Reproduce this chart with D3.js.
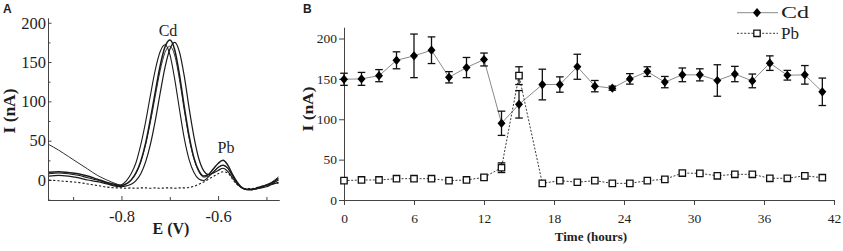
<!DOCTYPE html>
<html>
<head>
<meta charset="utf-8">
<script src="https://cdn.jsdelivr.net/npm/d3@7"></script>
<style>
  body { margin: 0; background: #fff; }
  svg { display: block; }
  text { font-family: "Liberation Serif", "Times New Roman", serif; fill: #1e1e1e; }
</style>
</head>
<body>
<svg id="chart" width="843" height="251"></svg>
<script>
// ---- panel A : stripping voltammograms, E (V) vs I (nA)
const potential = [-0.95, -0.93, -0.91, -0.89, -0.87, -0.85, -0.83, -0.81,
  -0.80, -0.79, -0.78, -0.77, -0.76, -0.75, -0.74, -0.73, -0.72, -0.71, -0.70,
  -0.69, -0.68, -0.67, -0.66, -0.65, -0.64, -0.63, -0.62, -0.61, -0.60, -0.59,
  -0.58, -0.57, -0.56, -0.55, -0.54, -0.53, -0.52, -0.51, -0.50, -0.49, -0.475];
const scan1 = [45, 38, 30, 22, 14, 6, 0, -5,
  -7, -4.5, 0, 8.5, 23, 45, 74, 107, 139, 162, 170,
  159, 128, 89, 53, 27, 10.7, 3.7, 5, 10.7, 16, 18.5,
  14.6, 5, -4, -10, -12, -11.5, -10, -8, -6, -3, 4];
const scan2 = [10, 10.5, 9.5, 8, 5, 1, -3, -6,
  -7, -5, 0, 9, 24, 47, 78, 112, 145, 169, 178,
  166, 134, 93, 56, 28, 12, 5, 7, 14, 21, 25,
  19, 7, -3, -10, -12, -12, -10.5, -8.5, -6.5, -4, 2];
const scan3 = [8, 9, 8, 6, 3, 0, -4, -7,
  -6, -1, 8, 22, 45, 74, 108, 140, 163, 172, 160,
  129, 90, 53, 26, 9.5, 1.4, -0.6, 3.9, 10, 16, 19,
  15, 5.6, -4.3, -10.2, -12.4, -12.5, -11, -9, -7, -5, 0];
const scan4 = [5, 6, 5, 3, 0, -2, -5, -8,
  -8.5, -7.5, -5.5, -0.7, 8, 23, 45.6, 75.6, 110, 143, 166,
  175, 163, 132, 91.5, 55, 27.4, 12, 7, 8.8, 12.2, 15,
  11, 2.4, -5.5, -10.1, -12, -12, -11, -10, -8.5, -6, -3];
const blank = [0, -1, -2, -3, -5, -7, -9, -10,
  -10, -10.5, -10, -10.5, -10, -10, -10.5, -10, -10.5, -10, -10,
  -10.5, -10, -10, -9.5, -8, -5.5, -2.5, 1, 4.5, 8, 10.5,
  9, 1, -6, -10, -11, -11, -9.5, -8, -6.5, -5, -4];
const aYTicks = [0, 50, 100, 150, 200];
const aYMinor = [-25, 25, 75, 125, 175];
const aXTicks = [-0.8, -0.6];
const aXMinor = [-0.9, -0.7, -0.5];

// ---- panel B : response over time, mean and error
const hours = [0, 1.5, 3, 4.5, 6, 7.5, 9, 10.5, 12, 13.5, 15, 17, 18.5, 20,
  21.5, 23, 24.5, 26, 27.5, 29, 30.5, 32, 33.5, 35, 36.5, 38, 39.5, 41];
const cdMean = [149.5, 150, 154, 173, 178.5, 185.5, 152, 164, 174, 95, 118.5, 143, 143, 165,
  141, 138.5, 150, 159, 146, 155, 155, 148, 156, 147.5, 169.5, 154.5, 155, 134];
const cdErr = [7.5, 8, 7.5, 10.5, 27, 16.5, 7, 12.5, 8, 15, 17, 19, 9.5, 15.5,
  7, 2.5, 6.5, 6, 7, 8.5, 7.5, 19.5, 9.5, 8.5, 9, 6, 11.5, 17];
const pbMean = [24, 24.8, 24.8, 26.4, 26.4, 26.4, 24, 24.8, 28, 40, 154, 20.6, 24, 22,
  24, 20.6, 20.6, 24, 25.6, 33.4, 33, 30, 31.8, 31.8, 26.9, 26.9, 30, 27.6];
const pbErr = [0, 0, 0, 0, 0, 0, 0, 0, 2, 6, 11, 0, 0, 0,
  0, 0, 0, 0, 0, 0, 0, 0, 0, 0, 0, 0, 0, 0];
const bXTicks = [0, 6, 12, 18, 24, 30, 36, 42];
const bYTicks = [0, 50, 100, 150, 200];
const seriesNames = ["Cd", "Pb"];

const svg = d3.select("#chart");
const axisColor = "#444";

function styleAxis(g, size) {
  g.attr("font-family", "Liberation Serif, Times New Roman, serif")
    .attr("font-size", size);
  g.select(".domain").attr("stroke", axisColor);
  g.selectAll(".tick line").attr("stroke", axisColor);
  g.selectAll(".tick text").attr("fill", "#1e1e1e");
}

// ================= panel A =================
const xA = d3.scaleLinear().domain([-0.952, -0.474]).range([48, 279]);
const yA = d3.scaleLinear().domain([-25.4, 206]).range([200, 18]);
const gA = svg.append("g");

gA.append("g").attr("transform", "translate(48,0)")
  .call(d3.axisLeft(yA).tickValues(aYMinor).tickSize(-2.5).tickSizeOuter(0).tickFormat(""))
  .call(styleAxis, 16.5);
gA.append("g").attr("transform", "translate(48,0)")
  .call(d3.axisLeft(yA).tickValues(aYTicks).tickSize(-3.5).tickSizeOuter(0).tickPadding(2))
  .call(styleAxis, 16.5);
gA.append("g").attr("transform", "translate(0,200)")
  .call(d3.axisBottom(xA).tickValues(aXMinor).tickSize(-3).tickSizeOuter(0).tickFormat(""))
  .call(styleAxis, 16.5);
gA.append("g").attr("transform", "translate(0,200)")
  .call(d3.axisBottom(xA).tickValues(aXTicks).tickSize(-4).tickSizeOuter(0).tickPadding(10)
    .tickFormat(d => d.toFixed(1)))
  .call(styleAxis, 16.5);

const lineA = d3.line()
  .x((d, i) => xA(potential[i]))
  .y(d => yA(d))
  .curve(d3.curveMonotoneX);

const scans = [
  { v: scan1, w: 0.9, dash: null },
  { v: scan2, w: 1.5, dash: null },
  { v: scan3, w: 1.1, dash: null },
  { v: scan4, w: 1.2, dash: null },
  { v: blank, w: 1.1, dash: "2.2,2" }
];
gA.selectAll("path.scan").data(scans).join("path")
  .attr("class", "scan")
  .attr("d", d => lineA(d.v))
  .attr("fill", "none")
  .attr("stroke", "#1a1a1a")
  .attr("stroke-width", d => d.w)
  .attr("stroke-dasharray", d => d.dash);

gA.append("text").attr("x", 168).attr("y", 36).attr("text-anchor", "middle")
  .attr("font-size", 16).text("Cd");
gA.append("text").attr("x", 226).attr("y", 153).attr("text-anchor", "middle")
  .attr("font-size", 16).text("Pb");
gA.append("text").attr("x", 171).attr("y", 234).attr("text-anchor", "middle")
  .attr("font-size", 16).attr("font-weight", "bold").text("E (V)");
gA.append("text").attr("transform", "translate(15,111) rotate(-90)").attr("text-anchor", "middle")
  .attr("font-size", 16).attr("font-weight", "bold")
  .attr("textLength", 45).attr("lengthAdjust", "spacingAndGlyphs").text("I (nA)");
gA.append("text").attr("x", 3).attr("y", 13)
  .style("font-family", "Liberation Sans, Arial, sans-serif")
  .attr("font-size", 12).attr("font-weight", "bold").attr("fill", "#000").text("A");

// ================= panel B =================
const xB = d3.scaleLinear().domain([0, 42]).range([344, 834]);
const yB = d3.scaleLinear().domain([0, 214]).range([200, 27.2]);
const gB = svg.append("g");

gB.append("g").attr("transform", "translate(344,0)")
  .call(d3.axisLeft(yB).tickValues(bYTicks).tickSize(5).tickSizeOuter(0).tickPadding(2))
  .call(styleAxis, 13.5);
gB.append("g").attr("transform", "translate(0,200)")
  .call(d3.axisBottom(xB).tickValues(bXTicks).tickSize(5).tickSizeOuter(0).tickPadding(8))
  .call(styleAxis, 13.5);

const lineB = d3.line().x((d, i) => xB(hours[i])).y(d => yB(d));

gB.append("path").attr("d", lineB(cdMean))
  .attr("fill", "none").attr("stroke", "#8a8a8a").attr("stroke-width", 1);
gB.append("path").attr("d", lineB(pbMean))
  .attr("fill", "none").attr("stroke", "#3a3a3a").attr("stroke-width", 1)
  .attr("stroke-dasharray", "2,1.6");

function errorBars(mean, err) {
  const g = gB.append("g").attr("stroke", "#111").attr("stroke-width", 1.3);
  hours.forEach((t, i) => {
    if (!err[i]) return;
    const x = xB(t), y0 = yB(mean[i] - err[i]), y1 = yB(mean[i] + err[i]);
    g.append("line").attr("x1", x).attr("x2", x).attr("y1", y0).attr("y2", y1);
    g.append("line").attr("x1", x - 3.8).attr("x2", x + 3.8).attr("y1", y0).attr("y2", y0);
    g.append("line").attr("x1", x - 3.8).attr("x2", x + 3.8).attr("y1", y1).attr("y2", y1);
  });
}
errorBars(cdMean, cdErr);
errorBars(pbMean, pbErr);

const diamond = "M0,-4.6L4,0L0,4.6L-4,0Z";
const square = "M-3.2,-3.2H3.2V3.2H-3.2Z";

gB.selectAll("path.cd").data(cdMean).join("path")
  .attr("class", "cd")
  .attr("transform", (d, i) => `translate(${xB(hours[i])},${yB(d)})`)
  .attr("d", diamond).attr("fill", "#000");
gB.selectAll("path.pb").data(pbMean).join("path")
  .attr("class", "pb")
  .attr("transform", (d, i) => `translate(${xB(hours[i])},${yB(d)})`)
  .attr("d", square).attr("fill", "#fff").attr("stroke", "#111").attr("stroke-width", 1.3);

// legend
const legend = gB.append("g");
const legendWidths = [28, 18];
seriesNames.forEach((name, i) => {
  const y = 12.7 + i * 20.6;
  legend.append("line").attr("x1", 737).attr("x2", 778).attr("y1", y).attr("y2", y)
    .attr("stroke", i === 0 ? "#8a8a8a" : "#3a3a3a")
    .attr("stroke-dasharray", i === 0 ? null : "2,1.6");
  legend.append("path").attr("transform", `translate(757,${y})`)
    .attr("d", i === 0 ? diamond : square)
    .attr("fill", i === 0 ? "#000" : "#fff")
    .attr("stroke", i === 0 ? null : "#111").attr("stroke-width", 1.3);
  legend.append("text").attr("x", 781).attr("y", y + 5.6)
    .attr("font-size", 17)
    .attr("textLength", legendWidths[i]).attr("lengthAdjust", "spacingAndGlyphs")
    .text(name);
});

gB.append("text").attr("x", 591).attr("y", 241).attr("text-anchor", "middle")
  .attr("font-size", 13).attr("font-weight", "bold").text("Time (hours)");
gB.append("text").attr("transform", "translate(313,109) rotate(-90)").attr("text-anchor", "middle")
  .attr("font-size", 14).attr("font-weight", "bold")
  .attr("textLength", 45).attr("lengthAdjust", "spacingAndGlyphs").text("I (nA)");
gB.append("text").attr("x", 303).attr("y", 13)
  .style("font-family", "Liberation Sans, Arial, sans-serif")
  .attr("font-size", 12).attr("font-weight", "bold").attr("fill", "#000").text("B");
</script>
</body>
</html>
